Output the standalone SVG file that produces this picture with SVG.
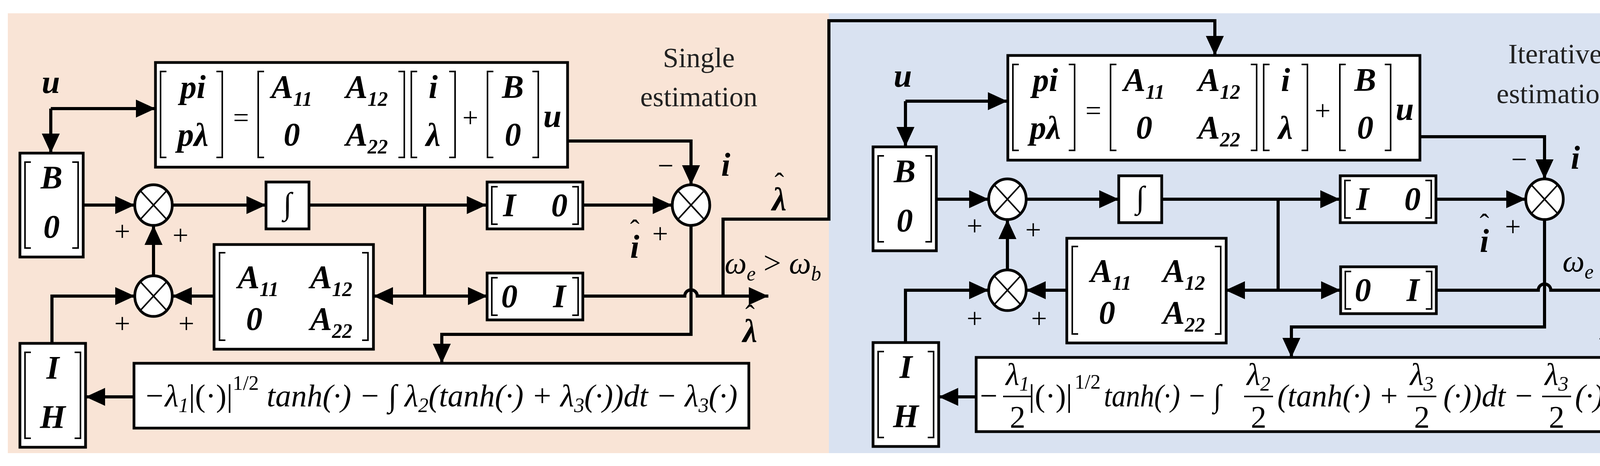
<svg xmlns="http://www.w3.org/2000/svg" xmlns:xlink="http://www.w3.org/1999/xlink" width="4291" height="1193" viewBox="0 0 4291 1193">
<style>
.bx{fill:#fff;stroke:#000;stroke-width:7}
.br{fill:none;stroke:#000;stroke-width:4}
.ln{fill:none;stroke:#000;stroke-width:8}
.ci{fill:#fff;stroke:#000;stroke-width:7}
.m{font-family:'Liberation Serif','Times New Roman',Times,serif;font-style:italic;font-weight:bold;font-size:84px;text-anchor:middle}
.f{font-family:'Liberation Serif','Times New Roman',Times,serif;font-style:italic;font-size:80px}
.n{font-family:'Liberation Serif','Times New Roman',Times,serif;font-size:72px;text-anchor:middle}
.t{font-family:'Liberation Serif','Times New Roman',Times,serif;font-size:72px;text-anchor:middle;fill:#222}
.s{font-size:52px}
</style>
<defs>
<marker id="ar" markerUnits="userSpaceOnUse" markerWidth="52" markerHeight="46" refX="50" refY="23" orient="auto"><path d="M0,0 L50,23 L0,46 Z" fill="#000"/></marker>
<g id="eq">
<rect class="bx" x="0" y="0" width="1055" height="268"/>
<path class="br" d="M28,23 H13 V243 H28 M156,23 H171 V243 H156 M278,23 H263 V243 H278 M622,23 H637 V243 H622 M670,23 H655 V243 H670 M752,23 H767 V243 H752 M865,23 H850 V243 H865 M965,23 H980 V243 H965"/>
<text class="m" x="96" y="91" font-weight="normal">p<tspan font-weight="bold">i</tspan></text>
<text class="m" x="96" y="213" font-weight="normal">pλ</text>
<text class="n" x="219" y="165" font-size="84">=</text>
<text class="m" x="349" y="91">A<tspan class="s" dy="20">11</tspan></text>
<text class="m" x="541" y="91">A<tspan class="s" dy="20">12</tspan></text>
<text class="m" x="349" y="213">0</text>
<text class="m" x="541" y="213">A<tspan class="s" dy="20">22</tspan></text>
<text class="m" x="711" y="91">i</text>
<text class="m" x="711" y="213">λ</text>
<text class="n" x="806" y="165" font-size="84">+</text>
<text class="m" x="915" y="91">B</text>
<text class="m" x="915" y="213">0</text>
<text class="m" x="1016" y="165">u</text>
</g>
<g id="b0">
<rect class="bx" x="0" y="0" width="162" height="266"/>
<path class="br" d="M28,23 H13 V243 H28 M134,23 H149 V243 H134"/>
<text class="m" x="81" y="91">B</text>
<text class="m" x="81" y="217">0</text>
</g>
<g id="ih">
<rect class="bx" x="0" y="0" width="168" height="266"/>
<path class="br" d="M28,23 H13 V243 H28 M140,23 H155 V243 H140"/>
<text class="m" x="84" y="91">I</text>
<text class="m" x="84" y="217">H</text>
</g>
<g id="am">
<rect class="bx" x="0" y="0" width="408" height="268"/>
<path class="br" d="M29,21 H14 V245 H29 M379,21 H394 V245 H379"/>
<text class="m" x="113" y="112">A<tspan class="s" dy="20">11</tspan></text>
<text class="m" x="300" y="112">A<tspan class="s" dy="20">12</tspan></text>
<text class="m" x="103" y="219">0</text>
<text class="m" x="300" y="219">A<tspan class="s" dy="20">22</tspan></text>
</g>
<g id="i0">
<rect class="bx" x="0" y="0" width="245" height="120"/>
<path class="br" d="M27,12 H12 V108 H27 M218,12 H233 V108 H218"/>
<text class="m" x="57" y="88">I</text>
<text class="m" x="185" y="88">0</text>
</g>
<g id="zi">
<rect class="bx" x="0" y="0" width="245" height="120"/>
<path class="br" d="M27,12 H12 V108 H27 M218,12 H233 V108 H218"/>
<text class="m" x="57" y="88">0</text>
<text class="m" x="185" y="88">I</text>
</g>
<g id="ig">
<rect class="bx" x="0" y="0" width="110" height="120"/>
<text class="f" x="55" y="82" text-anchor="middle" font-style="normal" font-size="70">∫</text>
</g>
<g id="sum">
<ellipse class="ci" cx="0" cy="0" rx="48" ry="52"/>
<path class="br" stroke-width="6" d="M-34,-37 L34,37 M34,-37 L-34,37"/>
</g>
</defs>

<rect x="20" y="34" width="2102" height="1126" fill="#f9e4d6"/>
<rect x="2122" y="34" width="2108" height="1126" fill="#d9e2f1"/>

<g id="connectors">
<path class="ln" marker-end="url(#ar)" d="M130,278 H398"/>
<path class="ln" marker-end="url(#ar)" d="M130,278 V392"/>
<path class="ln" marker-end="url(#ar)" d="M213,525 H345"/>
<path class="ln" marker-end="url(#ar)" d="M441,525 H681"/>
<path class="ln" marker-end="url(#ar)" d="M791,525 H1245"/>
<path class="ln" marker-end="url(#ar)" d="M1492,525 H1721"/>
<path class="ln" marker-end="url(#ar)" d="M1453,361 H1769 V473"/>
<path class="ln" d="M1087,525 V758"/>
<path class="ln" marker-end="url(#ar)" d="M1087,758 H956"/>
<path class="ln" marker-end="url(#ar)" d="M1087,758 H1248"/>
<path class="ln" marker-end="url(#ar)" d="M548,758 H441"/>
<path class="ln" marker-end="url(#ar)" d="M393,706 V577"/>
<path class="ln" marker-end="url(#ar)" d="M133,879 V758 H345"/>
<path class="ln" marker-end="url(#ar)" d="M1492,758 H1753 a16,16 0 0 1 32,0 H1967"/>
<path class="ln" marker-end="url(#ar)" d="M1769,577 V856 H1131 V930"/>
<path class="ln" marker-end="url(#ar)" d="M1851,758 V561 H2122 V53 H3110 V142"/>
<path class="ln" marker-end="url(#ar)" d="M343,1016 H219"/>

<path class="ln" marker-end="url(#ar)" d="M2318,259 H2579"/>
<path class="ln" marker-end="url(#ar)" d="M2318,259 V375"/>
<path class="ln" marker-end="url(#ar)" d="M2397,510 H2531"/>
<path class="ln" marker-end="url(#ar)" d="M2627,510 H2864"/>
<path class="ln" marker-end="url(#ar)" d="M2974,510 H3430"/>
<path class="ln" marker-end="url(#ar)" d="M3674,510 H3906"/>
<path class="ln" marker-end="url(#ar)" d="M3636,350 H3954 V458"/>
<path class="ln" d="M3272,510 V743"/>
<path class="ln" marker-end="url(#ar)" d="M3272,743 H3137"/>
<path class="ln" marker-end="url(#ar)" d="M3272,743 H3432"/>
<path class="ln" marker-end="url(#ar)" d="M2733,743 H2627"/>
<path class="ln" marker-end="url(#ar)" d="M2579,691 V562"/>
<path class="ln" marker-end="url(#ar)" d="M2318,877 V743 H2531"/>
<path class="ln" marker-end="url(#ar)" d="M3677,743 H3938 a16,16 0 0 1 32,0 H4150"/>
<path class="ln" marker-end="url(#ar)" d="M3954,562 V837 H3306 V915"/>
<path class="ln" marker-end="url(#ar)" d="M2499,1016 H2403"/>
</g>

<g id="L_eq"><use xlink:href="#eq" x="398" y="160"/></g>
<g id="L_b0"><use xlink:href="#b0" x="51" y="392"/></g>
<g id="L_ih"><use xlink:href="#ih" x="51" y="879"/></g>
<g id="L_am"><use xlink:href="#am" x="548" y="626"/></g>
<g id="L_i0"><use xlink:href="#i0" x="1247" y="466"/></g>
<g id="L_zi"><use xlink:href="#zi" x="1247" y="699"/></g>
<g id="L_ig"><use xlink:href="#ig" x="681" y="466"/></g>
<g id="L_s1"><use xlink:href="#sum" x="393" y="525"/></g>
<g id="L_s2"><use xlink:href="#sum" x="393" y="758"/></g>
<g id="L_s3"><use xlink:href="#sum" x="1769" y="525"/></g>
<g id="L_fn">
<rect class="bx" x="343" y="930" width="1574" height="166"/>
<text class="f" x="368" y="1040" textLength="1520" lengthAdjust="spacingAndGlyphs">−λ<tspan class="s" dy="15">1</tspan><tspan dy="-15" font-style="normal">|(·)|</tspan><tspan class="s" dy="-42" font-style="normal">1/2</tspan><tspan dy="42"> tanh(·) − ∫ λ</tspan><tspan class="s" dy="15">2</tspan><tspan dy="-15">(tanh(·) + λ</tspan><tspan class="s" dy="15">3</tspan><tspan dy="-15">(·))dt − λ</tspan><tspan class="s" dy="15">3</tspan><tspan dy="-15">(·)</tspan></text>
</g>
<g id="L_labels">
<text class="m" x="130" y="238">u</text>
<text class="n" x="313" y="616">+</text>
<text class="n" x="462" y="626">+</text>
<text class="n" x="313" y="852">+</text>
<text class="n" x="477" y="852">+</text>
<text class="n" x="1704" y="448">−</text>
<text class="m" x="1858" y="450">i</text>
<text class="m" x="1625" y="660">i</text><text class="n" x="1625" y="612">ˆ</text>
<text class="n" x="1690" y="622">+</text>
<text class="m" x="1995" y="538">λ</text><text class="n" x="1995" y="492">ˆ</text>
<text class="f" x="1855" y="700" font-size="72">ω<tspan class="s" font-size="44" dy="18">e</tspan><tspan dy="-18" font-style="normal"> &gt; </tspan>ω<tspan class="s" font-size="44" dy="18">b</tspan></text>
<text class="m" x="1920" y="875">λ</text><text class="n" x="1920" y="830">ˆ</text>
<text class="t" x="1789" y="172">Single</text>
<text class="t" x="1789" y="272">estimation</text>
</g>

<g id="R_eq"><use xlink:href="#eq" x="2580" y="142"/></g>
<g id="R_b0"><use xlink:href="#b0" x="2235" y="376"/></g>
<g id="R_ih"><use xlink:href="#ih" x="2235" y="877"/></g>
<g id="R_am"><use xlink:href="#am" x="2731" y="610"/></g>
<g id="R_i0"><use xlink:href="#i0" x="3431" y="450"/></g>
<g id="R_zi"><use xlink:href="#zi" x="3432" y="683"/></g>
<g id="R_ig"><use xlink:href="#ig" x="2864" y="450"/></g>
<g id="R_s1"><use xlink:href="#sum" x="2579" y="510"/></g>
<g id="R_s2"><use xlink:href="#sum" x="2579" y="743"/></g>
<g id="R_s3"><use xlink:href="#sum" x="3954" y="510"/></g>
<g id="R_fn">
<rect class="bx" x="2499" y="915" width="1613" height="190"/>
<g class="f" text-anchor="middle">
<text x="2531" y="1040" font-style="normal">−</text>
<text x="2605" y="985">λ<tspan class="s" dy="15">1</tspan></text><text x="2605" y="1095" font-style="normal">2</text>
<text x="2745" y="1040" font-style="normal" text-anchor="end">|(·)|</text>
<text x="2751" y="995" class="s" font-style="normal" text-anchor="start">1/2</text>
<text x="2826" y="1040" text-anchor="start" textLength="300" lengthAdjust="spacingAndGlyphs">tanh(·) − ∫</text>
<text x="3222" y="985">λ<tspan class="s" dy="15">2</tspan></text><text x="3222" y="1095" font-style="normal">2</text>
<text x="3270" y="1040" text-anchor="start" textLength="312" lengthAdjust="spacingAndGlyphs">(tanh(·) +</text>
<text x="3640" y="985">λ<tspan class="s" dy="15">3</tspan></text><text x="3640" y="1095" font-style="normal">2</text>
<text x="3695" y="1040" text-anchor="start" textLength="232" lengthAdjust="spacingAndGlyphs">(·))dt −</text>
<text x="3985" y="985">λ<tspan class="s" dy="15">3</tspan></text><text x="3985" y="1095" font-style="normal">2</text>
<text x="4032" y="1040" text-anchor="start">(·)</text>
</g>
<path stroke="#000" stroke-width="4" d="M2568,1015 H2642 M3185,1015 H3259 M3603,1015 H3677 M3948,1015 H4022"/>
</g>
<g id="R_labels">
<text class="m" x="2311" y="222">u</text>
<text class="n" x="2495" y="602">+</text>
<text class="n" x="2645" y="612">+</text>
<text class="n" x="2495" y="839">+</text>
<text class="n" x="2660" y="839">+</text>
<text class="n" x="3889" y="432">−</text>
<text class="m" x="4033" y="432">i</text>
<text class="m" x="3800" y="645">i</text><text class="n" x="3800" y="597">ˆ</text>
<text class="n" x="3873" y="604">+</text>
<text class="f" x="4000" y="695" font-size="72">ω<tspan class="s" font-size="44" dy="18">e</tspan><tspan dy="-18" font-style="normal"> &lt; </tspan>ω<tspan class="s" font-size="44" dy="18">b</tspan></text>
<text class="m" x="4116" y="868">λ</text><text class="n" x="4116" y="823">ˆ</text>
<text class="t" x="3981" y="162">Iterative</text>
<text class="t" x="3981" y="264">estimation</text>
</g>
</svg>
